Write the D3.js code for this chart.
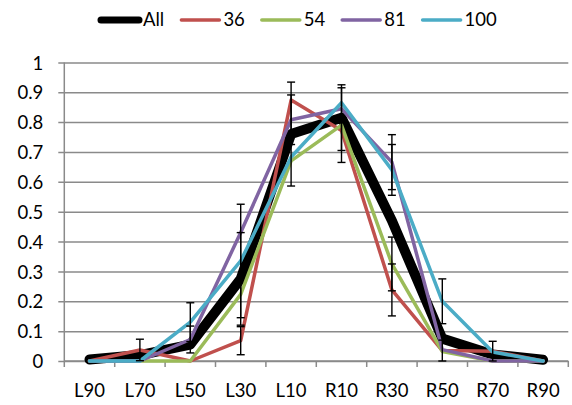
<!DOCTYPE html>
<html>
<head>
<meta charset="utf-8">
<script src="https://cdn.jsdelivr.net/npm/d3@7"></script>
<style>
  html, body { margin: 0; padding: 0; background: #fff; }
  svg { display: block; }
  text { font-family: Lato, "Open Sans", sans-serif; fill: #000; }
</style>
</head>
<body>
<svg id="chart" width="572" height="405"></svg>
<script>
// Categories along the horizontal axis
const categories = ["L90", "L70", "L50", "L30", "L10", "R10", "R30", "R50", "R70", "R90"];

// Series names (legend order)
const seriesNames = ["All", "36", "54", "81", "100"];

// Proportions per category
const valuesAll = [0.005, 0.02, 0.055, 0.275, 0.76, 0.815, 0.47, 0.075, 0.022, 0.004];
const values36  = [0, 0.037, 0, 0.068, 0.874, 0.772, 0.238, 0.035, 0.033, 0];
const values54  = [0, 0, 0, 0.223, 0.67, 0.79, 0.325, 0.032, 0, 0];
const values81  = [0, 0, 0.072, 0.43, 0.808, 0.845, 0.666, 0.038, 0, 0];
const values100 = [0, 0, 0.13, 0.335, 0.683, 0.865, 0.64, 0.2, 0.03, 0];

// Symmetric error amounts (null = no error bar)
const errAll = [null, null, null, 0.155, 0.174, 0.11, null, null, null, null];
const err36  = [null, 0.036, null, 0.047, null, null, 0.087, 0.035, 0.033, null];
const err54  = [null, null, null, null, null, 0.125, 0.09, null, null, null];
const err81  = [null, null, 0.045, null, 0.083, null, 0.092, null, null, null];
const err100 = [null, null, 0.065, 0.19, null, null, 0.085, 0.075, null, null];

// Y-axis tick values
const yTicks = [0, 0.1, 0.2, 0.3, 0.4, 0.5, 0.6, 0.7, 0.8, 0.9, 1];

const seriesValues = [valuesAll, values36, values54, values81, values100];
const seriesErrors = [errAll, err36, err54, err81, err100];
const seriesColors = ["#000000", "#C0504D", "#9BBB59", "#8064A2", "#4BACC6"];
const seriesWidths = [10, 3.5, 3.5, 3.5, 3.5];

const fontSize = "18.5px";
const svg = d3.select("#chart");

const plot = { left: 64.3, right: 568.3, top: 62.4, bottom: 361 };

const x = d3.scaleBand().domain(categories).range([plot.left, plot.right]).padding(0);
const cx = c => x(c) + x.bandwidth() / 2;
const y = d3.scaleLinear().domain([0, 1]).range([plot.bottom, plot.top]);

const gridColor = "#8a8a8a";

// Horizontal gridlines with y-axis ticks
const yAxis = d3.axisLeft(y)
  .tickValues(yTicks)
  .tickSize(-(plot.right - plot.left))
  .tickPadding(0)
  .tickFormat(d => d3.format(".1~f")(d));

const gy = svg.append("g")
  .attr("transform", `translate(${plot.left},0)`)
  .call(yAxis);
gy.select(".domain").remove();
gy.selectAll(".tick line")
  .attr("x1", -6)
  .attr("stroke", gridColor)
  .attr("stroke-width", 1.5);
gy.selectAll(".tick text")
  .attr("x", -21)
  .attr("dy", "0.36em")
  .attr("text-anchor", "end")
  .style("font-size", fontSize)
  .style("font-family", "Lato, 'Open Sans', sans-serif")
  .attr("fill", "#000");

// Vertical axis line
svg.append("line")
  .attr("x1", plot.left).attr("x2", plot.left)
  .attr("y1", plot.top).attr("y2", plot.bottom)
  .attr("stroke", gridColor).attr("stroke-width", 1.5);

// Category axis with ticks at band edges
const gx = svg.append("g")
  .attr("transform", `translate(0,${plot.bottom})`)
  .call(d3.axisBottom(x).tickSize(0).tickPadding(0));
gx.select(".domain")
  .attr("d", `M${plot.left},0H${plot.right}`)
  .attr("stroke", gridColor).attr("stroke-width", 1.5);
gx.selectAll(".tick text")
  .attr("y", 35.8)
  .attr("dy", 0)
  .style("font-size", fontSize)
  .style("font-family", "Lato, 'Open Sans', sans-serif")
  .attr("fill", "#000");
const edges = categories.map(c => x(c)).concat([x(categories[categories.length - 1]) + x.bandwidth()]);
gx.selectAll("line.edge")
  .data(edges)
  .join("line")
  .attr("class", "edge")
  .attr("x1", d => d).attr("x2", d => d)
  .attr("y1", 0).attr("y2", 6)
  .attr("stroke", gridColor).attr("stroke-width", 1.5);

// Series lines
const line = d3.line()
  .x((d, i) => cx(categories[i]))
  .y(d => y(d));

const linesG = svg.append("g");
seriesValues.forEach((vals, s) => {
  linesG.append("path")
    .attr("d", line(vals))
    .attr("fill", "none")
    .attr("stroke", seriesColors[s])
    .attr("stroke-width", seriesWidths[s])
    .attr("stroke-linejoin", "round")
    .attr("stroke-linecap", "round");
});

// Error bars
const errG = svg.append("g");
const capHalf = 4;
seriesValues.forEach((vals, s) => {
  const errs = seriesErrors[s];
  vals.forEach((v, i) => {
    const e = errs[i];
    if (e == null) return;
    const px = cx(categories[i]);
    const hi = y(Math.min(1, v + e));
    const lo = y(Math.max(0, v - e));
    errG.append("line")
      .attr("x1", px).attr("x2", px).attr("y1", hi).attr("y2", lo)
      .attr("stroke", "#000").attr("stroke-width", 1.4);
    [hi, lo].forEach(py => {
      errG.append("line")
        .attr("x1", px - capHalf).attr("x2", px + capHalf)
        .attr("y1", py).attr("y2", py)
        .attr("stroke", "#000").attr("stroke-width", 1.4);
    });
  });
});

// Legend across the top
const legendStart = 101, legendStep = 80.4, legendY = 20, swatch = 38;
const legend = svg.append("g");
seriesNames.forEach((name, s) => {
  const lx = legendStart + legendStep * s;
  legend.append("line")
    .attr("x1", lx).attr("x2", lx + swatch)
    .attr("y1", legendY).attr("y2", legendY)
    .attr("stroke", seriesColors[s])
    .attr("stroke-width", s === 0 ? 7 : 3.5)
    .attr("stroke-linecap", "round");
  legend.append("text")
    .attr("x", lx + swatch + 4)
    .attr("y", 25.8)
    .style("font-size", fontSize)
    .text(name);
});
</script>
</body>
</html>
